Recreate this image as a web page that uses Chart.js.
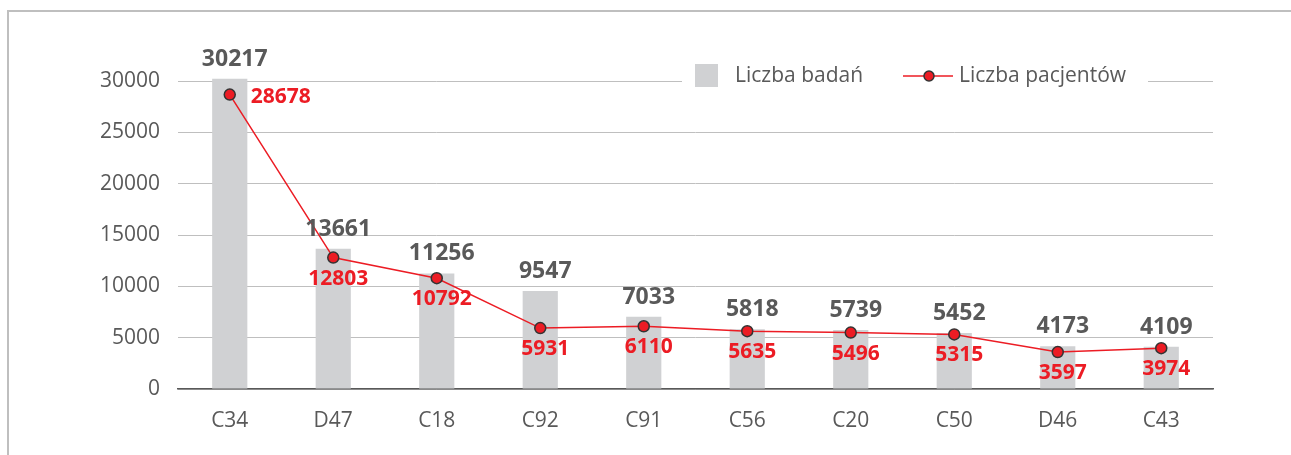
<!DOCTYPE html>
<html>
<head>
<meta charset="utf-8">
<script src="https://cdn.jsdelivr.net/npm/chart.js@4.4.1/dist/chart.umd.min.js"></script>
<style>
  html, body { margin: 0; padding: 0; background: #fff; overflow: hidden; }
  #wrap { width: 1291px; height: 455px; position: relative; }
</style>
</head>
<body>
<div id="wrap"><canvas id="chart" width="1291" height="455"></canvas></div>
<script>
const categories = ['C34', 'D47', 'C18', 'C92', 'C91', 'C56', 'C20', 'C50', 'D46', 'C43'];
const examCounts = [30217, 13661, 11256, 9547, 7033, 5818, 5739, 5452, 4173, 4109];
const patientCounts = [28678, 12803, 10792, 5931, 6110, 5635, 5496, 5315, 3597, 3974];
const yTicks = [0, 5000, 10000, 15000, 20000, 25000, 30000];

const GREY_TEXT = '#595959';
const RED = '#ec1c24';
const BAR = '#d0d1d3';
const FONT = "'Open Sans', sans-serif";

// frame around the chart (only left and top edges are visible)
const framePlugin = {
  id: 'frame',
  beforeDraw(chart) {
    const ctx = chart.ctx;
    ctx.save();
    ctx.strokeStyle = '#bfbfbf';
    ctx.lineWidth = 2;
    ctx.beginPath();
    ctx.moveTo(8, 455);
    ctx.lineTo(8, 11);
    ctx.lineTo(1291, 11);
    ctx.stroke();
    ctx.restore();
  }
};

// value labels + legend drawn on top
const labelsPlugin = {
  id: 'labels',
  afterDraw(chart) {
    const ctx = chart.ctx;
    ctx.save();

    const barMeta = chart.getDatasetMeta(1);
    ctx.font = `bold 23px ${FONT}`;
    ctx.fillStyle = GREY_TEXT;
    ctx.textAlign = 'center';
    ctx.textBaseline = 'bottom';
    barMeta.data.forEach((bar, i) => {
      ctx.fillText(String(examCounts[i]), bar.x + 5, bar.y - 8);
    });

    const lineMeta = chart.getDatasetMeta(0);
    ctx.font = `bold 21px ${FONT}`;
    ctx.fillStyle = RED;
    ctx.textBaseline = 'middle';
    lineMeta.data.forEach((pt, i) => {
      if (i === 0) {
        ctx.textAlign = 'left';
        ctx.fillText(String(patientCounts[i]), pt.x + 21, pt.y + 2);
      } else {
        ctx.textAlign = 'center';
        ctx.fillText(String(patientCounts[i]), pt.x + 5, pt.y + 21);
      }
    });

    // legend
    ctx.fillStyle = '#fff';
    ctx.fillRect(682, 60, 466, 32);
    ctx.fillStyle = BAR;
    ctx.fillRect(695, 64, 23, 23);
    ctx.font = `21px ${FONT}`;
    ctx.fillStyle = GREY_TEXT;
    ctx.textAlign = 'left';
    ctx.textBaseline = 'middle';
    ctx.fillText('Liczba badań', 735, 76);
    ctx.strokeStyle = RED;
    ctx.lineWidth = 1.5;
    ctx.beginPath();
    ctx.moveTo(903, 76);
    ctx.lineTo(953, 76);
    ctx.stroke();
    ctx.beginPath();
    ctx.arc(929, 76, 5, 0, Math.PI * 2);
    ctx.fillStyle = RED;
    ctx.fill();
    ctx.strokeStyle = '#333';
    ctx.stroke();
    ctx.fillStyle = GREY_TEXT;
    ctx.fillText('Liczba pacjentów', 959, 76);

    ctx.restore();
  }
};

const ctx = document.getElementById('chart').getContext('2d');
new Chart(ctx, {
  data: {
    labels: categories,
    datasets: [
      {
        type: 'line',
        label: 'Liczba pacjentów',
        data: patientCounts,
        order: 0,
        borderColor: RED,
        borderWidth: 1.5,
        pointRadius: 5.5,
        pointBackgroundColor: RED,
        pointBorderColor: '#333',
        pointBorderWidth: 1.5,
        tension: 0,
        clip: false
      },
      {
        type: 'bar',
        label: 'Liczba badań',
        data: examCounts,
        order: 1,
        backgroundColor: BAR,
        categoryPercentage: 1,
        barPercentage: 0.34,
        clip: false
      }
    ]
  },
  options: {
    responsive: false,
    animation: false,
    layout: { padding: { top: 81, right: 78, bottom: 0, left: 0 } },
    plugins: {
      legend: { display: false },
      tooltip: { enabled: false }
    },
    scales: {
      x: {
        grid: { display: false, drawTicks: false },
        border: { color: '#595959', width: 1.5 },
        ticks: { color: GREY_TEXT, font: { family: FONT, size: 21 }, padding: 19 },
        afterFit: s => { s.height = 455 - 389; }
      },
      y: {
        min: 0,
        max: 30000,
        afterBuildTicks: s => { s.ticks = yTicks.map(v => ({ value: v })); },
        grid: { color: '#bfbfbf', lineWidth: 1, drawTicks: false },
        border: { display: false },
        ticks: {
          color: GREY_TEXT,
          font: { family: FONT, size: 21 },
          padding: 18,
          callback: v => String(v)
        },
        afterFit: s => { s.width = 178; }
      }
    }
  },
  plugins: [framePlugin, labelsPlugin]
});
</script>
</body>
</html>
